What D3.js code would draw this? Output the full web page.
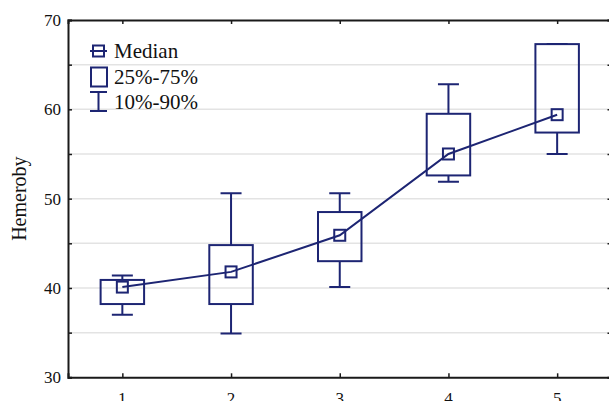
<!DOCTYPE html>
<html>
<head>
<meta charset="utf-8">
<script src="https://cdn.jsdelivr.net/npm/d3@7"></script>
<style>
  body { margin: 0; background: #fff; }
  text { font-family: "Liberation Serif", "Times New Roman", serif; fill: #111; }
</style>
</head>
<body>
<div id="content"></div>
<script>
var groups = [1, 2, 3, 4, 5];
var p10 = [37.0, 34.9, 40.1, 51.9, 55.0];
var p25 = [38.2, 38.2, 43.0, 52.6, 57.4];
var medians = [40.1, 41.8, 45.9, 55.0, 59.4];
var p75 = [40.9, 44.8, 48.5, 59.5, 67.3];
var p90 = [41.4, 50.6, 50.6, 62.8, 67.3];
var yTicks = [30, 40, 50, 60, 70];
var legendLabels = ["Median", "25%-75%", "10%-90%"];

var width = 609, height = 401;
var navy = "#1d2573";

var svg = d3.select("#content").append("svg").attr("width", width).attr("height", height);

var x = d3.scaleLinear().domain([0.5, 5.5]).range([68, 611.5]);
var y = d3.scaleLinear().domain([30, 70]).range([377.3, 20]);

var data = groups.map(function (g, i) {
    return { g: g, lo: p10[i], q1: p25[i], med: medians[i], q3: p75[i], hi: p90[i] };
});

// grid lines every 5
var gridVals = d3.range(35, 70, 5);
svg.selectAll(".grid")
    .data(gridVals)
    .enter()
    .append("line")
    .attr("x1", x(0.5)).attr("x2", x(5.5))
    .attr("y1", d => y(d)).attr("y2", d => y(d))
    .attr("stroke", "#e3e3e3")
    .attr("stroke-width", 1.5);

// axes (ticks inward)
var leftAxis = svg.append("g").attr("transform", `translate(${x(0.5)},0)`)
    .call(d3.axisRight(y).tickValues(d3.range(30, 71, 5)).tickSize(4).tickFormat(""));
var rightAxis = svg.append("g").attr("transform", `translate(${x(5.5)},0)`)
    .call(d3.axisLeft(y).tickValues(d3.range(30, 71, 5)).tickSize(4).tickFormat(""));
var bottomAxis = svg.append("g").attr("transform", `translate(0,${y(30)})`)
    .call(d3.axisTop(x).tickValues(groups).tickSize(4).tickFormat(""));
var topAxis = svg.append("g").attr("transform", `translate(0,${y(70)})`)
    .call(d3.axisBottom(x).tickValues(groups).tickSize(4).tickFormat(""));

[leftAxis, rightAxis, bottomAxis, topAxis].forEach(function (a) {
    a.selectAll(".domain").attr("stroke", "#1a1a1a").attr("stroke-width", 2);
    a.selectAll(".tick line").attr("stroke", "#1a1a1a").attr("stroke-width", 1.5);
});

// tick labels
svg.selectAll(".ylab")
    .data(yTicks)
    .enter()
    .append("text")
    .attr("x", x(0.5) - 7)
    .attr("y", d => y(d) + 6)
    .attr("text-anchor", "end")
    .style("font-size", "17px")
    .text(d => d);

svg.selectAll(".xlab")
    .data(groups)
    .enter()
    .append("text")
    .attr("x", d => x(d))
    .attr("y", y(30) + 27)
    .attr("text-anchor", "middle")
    .style("font-size", "17px")
    .text(d => d);

svg.append("text")
    .attr("transform", `translate(26,${(y(30) + y(70)) / 2}) rotate(-90)`)
    .attr("text-anchor", "middle")
    .style("font-size", "20px")
    .text("Hemeroby");

// box plot
var boxW = (x(1.2) - x(1)) * 2;
var capW = 21;
var medS = 11;

var boxes = svg.append("g").attr("stroke", navy).attr("stroke-width", 2).attr("fill", "none");

boxes.selectAll(".whisker")
    .data(data)
    .enter()
    .append("path")
    .attr("d", d => {
        var cx = x(d.g);
        return `M${cx - capW / 2},${y(d.hi)}H${cx + capW / 2}M${cx},${y(d.hi)}V${y(d.q3)}` +
            `M${cx},${y(d.q1)}V${y(d.lo)}M${cx - capW / 2},${y(d.lo)}H${cx + capW / 2}`;
    });

boxes.selectAll(".box")
    .data(data)
    .enter()
    .append("rect")
    .attr("x", d => x(d.g) - boxW / 2)
    .attr("y", d => y(d.q3))
    .attr("width", boxW)
    .attr("height", d => y(d.q1) - y(d.q3));

var line = d3.line().x(d => x(d.g)).y(d => y(d.med));
boxes.append("path").datum(data).attr("d", line);

boxes.selectAll(".med")
    .data(data)
    .enter()
    .append("rect")
    .attr("x", d => x(d.g) - medS / 2)
    .attr("y", d => y(d.med) - medS / 2)
    .attr("width", medS)
    .attr("height", medS)
    .attr("fill", "none");

// legend
var lg = svg.append("g").attr("transform", "translate(90,0)");
var lgY = [51, 76.5, 101.5];

lg.append("path")
    .attr("d", `M0,${lgY[0]}H17`)
    .attr("stroke", navy).attr("stroke-width", 2);
lg.append("rect")
    .attr("x", 3).attr("y", lgY[0] - 5.5).attr("width", 11).attr("height", 11)
    .attr("fill", "none").attr("stroke", navy).attr("stroke-width", 2);
lg.append("rect")
    .attr("x", 1).attr("y", lgY[1] - 9).attr("width", 16).attr("height", 19)
    .attr("fill", "none").attr("stroke", navy).attr("stroke-width", 2);
lg.append("path")
    .attr("d", `M0,${lgY[2] - 9.5}H17M8.5,${lgY[2] - 9.5}V${lgY[2] + 9.5}M0,${lgY[2] + 9.5}H17`)
    .attr("fill", "none").attr("stroke", navy).attr("stroke-width", 2);

lg.selectAll(".lgtext")
    .data(legendLabels)
    .enter()
    .append("text")
    .attr("x", 24)
    .attr("y", (d, i) => lgY[i] + 7)
    .style("font-size", "21px")
    .text(d => d);
</script>
</body>
</html>
